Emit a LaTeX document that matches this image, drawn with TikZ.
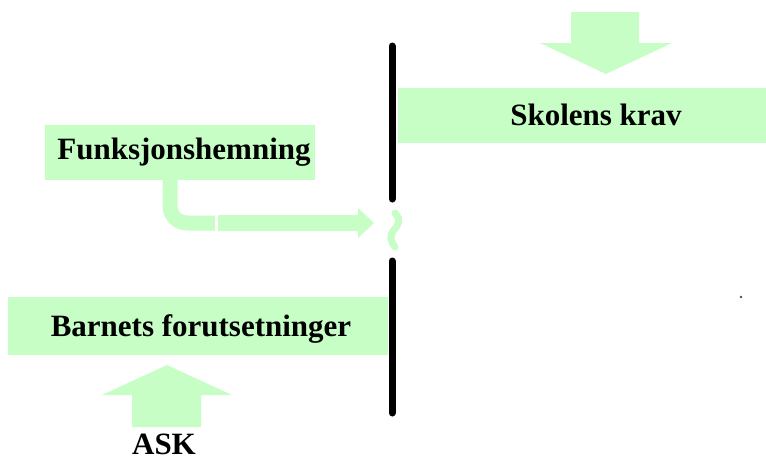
\documentclass[tikz,border=0pt]{standalone}
\usepackage{fontspec}
\setmainfont{Liberation Serif}
\definecolor{paleGreen}{HTML}{C6FEC6}
\begin{document}
\begin{tikzpicture}[x=1pt,y=-1pt,
  label/.style={font=\bfseries\fontsize{31}{36}\selectfont,text=black,
    inner sep=0pt,anchor=base},
  wall/.style={line width=7pt,line cap=round,draw=black},
  ]
\useasboundingbox (0,0) rectangle (766,461);
% boxes
\fill[paleGreen] (398,88) rectangle (766,143);
\node[label] (krav) at (596,125) {Skolens krav};
\fill[paleGreen] (45,125) rectangle (315,180);
\node[label] (hemning) at (184,159) {Funksjonshemning};
\fill[paleGreen] (8,297) rectangle (388,355);
\node[label] (barn) at (201,336) {Barnets forutsetninger};
\node[label] (ask) at (164,454) {ASK};
% the wall with its gap
\draw[wall] (392,46) -- (392,199);
\draw[wall] (392,261) -- (392,413);
\draw[paleGreen,line width=7pt,line cap=round]
  (395,213) .. controls (402,220) and (398,226) .. (393,231)
  .. controls (389,236) and (391,242) .. (395,247);
% arrow into the top box
\fill[paleGreen] (571,12) -- (639,12) -- (639,43) -- (672,43) -- (606,74)
  -- (540,43) -- (571,43) -- cycle;
% arrow into the bottom box
\fill[paleGreen] (132,427) -- (201,427) -- (201,395) -- (232,395) -- (167,365)
  -- (102,395) -- (132,395) -- cycle;
% bent arrow from the disability box towards the gap
\draw[paleGreen,line width=15pt] (170,180) -- (170,206)
  arc[start angle=180,end angle=90,radius=17] -- (215,223);
\fill[paleGreen] (218,215) -- (358,215) -- (358,208) -- (374,223)
  -- (358,238) -- (358,231) -- (218,231) -- cycle;
% stray dot
\fill[black!70] (741,297) circle[radius=1.3];
\end{tikzpicture}
\end{document}
